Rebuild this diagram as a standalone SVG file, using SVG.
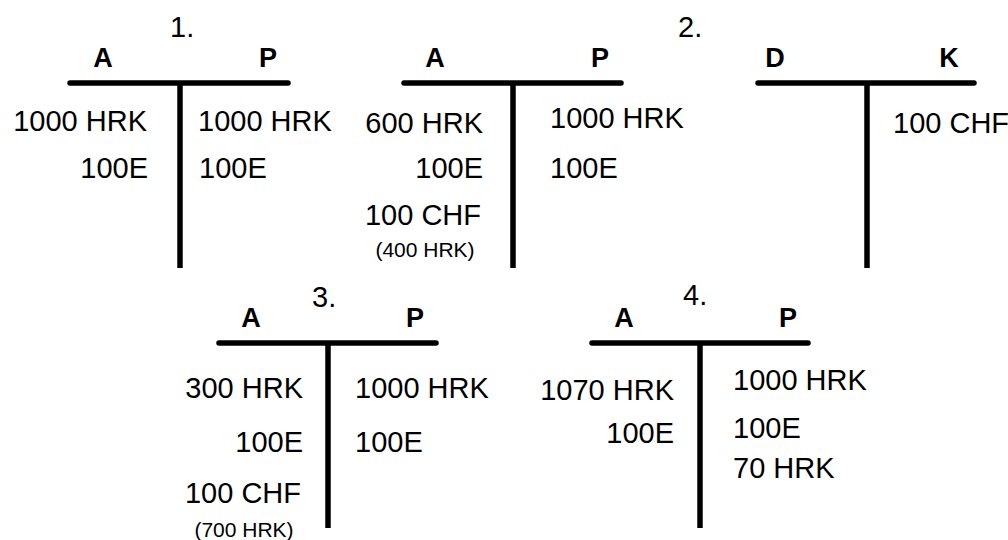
<svg xmlns="http://www.w3.org/2000/svg" width="1008" height="540" viewBox="0 0 1008 540">
<style>
  text { font-family: "Liberation Sans", Arial, sans-serif; fill: #000; }
  .v { font-size: 29px; }
  .s { font-size: 21px; }
  .h { font-size: 27px; font-weight: bold; text-anchor: middle; }
  .n { font-size: 29px; }
  .l { text-anchor: end; }
  .m { text-anchor: middle; }
  .hl { stroke: #000; stroke-width: 5.5; stroke-linecap: round; fill: none; }
  .vl { stroke: #000; stroke-width: 5.5; stroke-linecap: butt; fill: none; }
</style>
<rect width="1008" height="540" fill="#fff"/>

<g id="step-labels">
  <text class="n" x="170" y="37">1.</text>
  <text class="n" x="678" y="37">2.</text>
  <text class="n" x="312" y="307">3.</text>
  <text class="n" x="683" y="305">4.</text>
</g>

<g id="account-1">
  <line class="hl" x1="70" y1="83" x2="288" y2="83"/>
  <line class="vl" x1="180" y1="83" x2="180" y2="268"/>
  <text class="h" x="103" y="67">A</text>
  <text class="h" x="268" y="67">P</text>
  <text class="v l" x="147" y="131">1000 HRK</text>
  <text class="v l" x="148" y="178">100E</text>
  <text class="v" x="198" y="131">1000 HRK</text>
  <text class="v" x="199" y="178">100E</text>
</g>

<g id="account-2-ap">
  <line class="hl" x1="404" y1="83" x2="621" y2="83"/>
  <line class="vl" x1="513" y1="83" x2="513" y2="268"/>
  <text class="h" x="435" y="67">A</text>
  <text class="h" x="600" y="67">P</text>
  <text class="v l" x="483" y="133">600 HRK</text>
  <text class="v l" x="483" y="178">100E</text>
  <text class="v l" x="481" y="225">100 CHF</text>
  <text class="s m" x="425" y="257">(400 HRK)</text>
  <text class="v" x="550" y="128">1000 HRK</text>
  <text class="v" x="550" y="178">100E</text>
</g>

<g id="account-2-dk">
  <line class="hl" x1="758" y1="83" x2="974" y2="83"/>
  <line class="vl" x1="867" y1="83" x2="867" y2="268"/>
  <text class="h" x="775" y="67">D</text>
  <text class="h" x="949" y="67">K</text>
  <text class="v" x="893" y="133">100 CHF</text>
</g>

<g id="account-3">
  <line class="hl" x1="219" y1="343" x2="436" y2="343"/>
  <line class="vl" x1="328" y1="343" x2="328" y2="528"/>
  <text class="h" x="251" y="327">A</text>
  <text class="h" x="415" y="327">P</text>
  <text class="v l" x="303" y="398">300 HRK</text>
  <text class="v l" x="303" y="452">100E</text>
  <text class="v l" x="301" y="503">100 CHF</text>
  <text class="s m" x="244" y="537">(700 HRK)</text>
  <text class="v" x="355" y="398">1000 HRK</text>
  <text class="v" x="355" y="452">100E</text>
</g>

<g id="account-4">
  <line class="hl" x1="592" y1="343" x2="808" y2="343"/>
  <line class="vl" x1="700" y1="343" x2="700" y2="528"/>
  <text class="h" x="624" y="327">A</text>
  <text class="h" x="788" y="327">P</text>
  <text class="v l" x="674" y="400">1070 HRK</text>
  <text class="v l" x="674" y="443">100E</text>
  <text class="v" x="733" y="390">1000 HRK</text>
  <text class="v" x="733" y="438">100E</text>
  <text class="v" x="733" y="478">70 HRK</text>
</g>

<g id="connectors"></g>
</svg>
